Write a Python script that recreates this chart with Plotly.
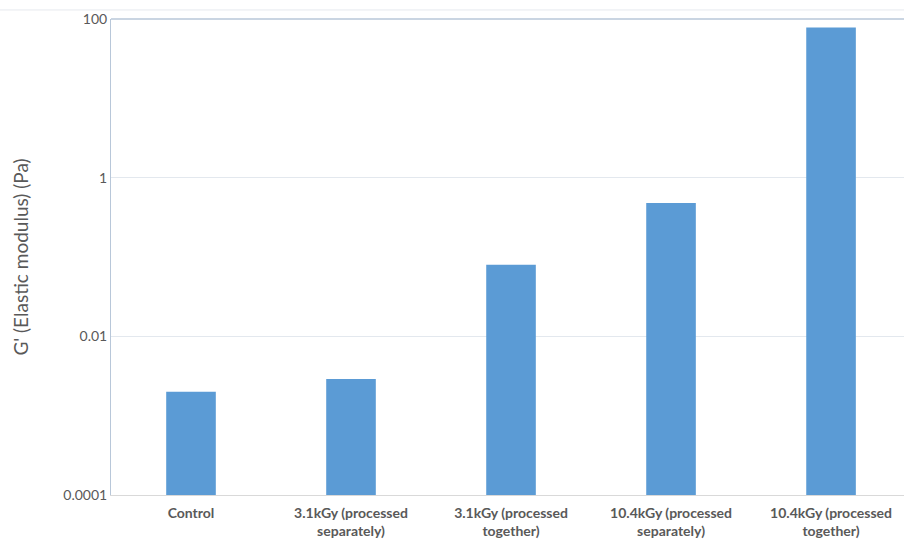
import plotly.graph_objects as go

categories = ["Control", "3.1kGy (processed<br>separately)", "3.1kGy (processed<br>together)",
              "10.4kGy (processed<br>separately)", "10.4kGy (processed<br>together)"]
g_prime = [0.002, 0.0029, 0.08, 0.48, 78]
tick_vals = [0.0001, 0.01, 1, 100]
tick_text = ["0.0001", "0.01", "1", "100"]

fig = go.Figure(go.Bar(x=list(range(len(categories))), y=g_prime, width=0.31,
                       marker=dict(color="#5B9BD5", line=dict(width=0))))

fig.update_layout(
    width=904, height=542,
    margin=dict(l=111, r=0, t=19, b=47, autoexpand=False),
    paper_bgcolor="white", plot_bgcolor="white",
    font=dict(family="Lato, Open Sans, sans-serif", color="#595959", size=12),
    showlegend=False,
)
fig.update_xaxes(
    tickvals=list(range(len(categories))), ticktext=[f"<b>{c}</b>" for c in categories],
    range=[-0.5, 4.456], showgrid=False, showline=True, linecolor="#D9D9D9", linewidth=1,
    ticks="", tickfont=dict(size=14, color="#595959"), zeroline=False,
    ticklabelstandoff=5,
)
fig.update_yaxes(
    type="log", range=[-4, 2], tickvals=tick_vals, ticktext=tick_text,
    showgrid=True, gridcolor="#E3E8EE", gridwidth=1,
    showline=True, linecolor="#B8C7D9", linewidth=1, mirror=False,
    ticks="", tickfont=dict(size=14, color="#595959"),
    title=dict(text="G' (Elastic modulus) (Pa)", font=dict(size=19, color="#595959"), standoff=29),
    zeroline=False,
)
fig.add_shape(type="line", xref="paper", yref="paper", x0=0, x1=1, y0=1, y1=1,
              line=dict(color="#B8C7D9", width=1.5))
fig.add_shape(type="line", xref="paper", yref="paper", x0=-0.14, x1=1, y0=1.019, y1=1.019,
              line=dict(color="#E6E9EE", width=1))
fig.write_html("out.html", config={"displayModeBar": False},
               post_script="document.body.style.margin='0';document.body.style.overflow='hidden';")
